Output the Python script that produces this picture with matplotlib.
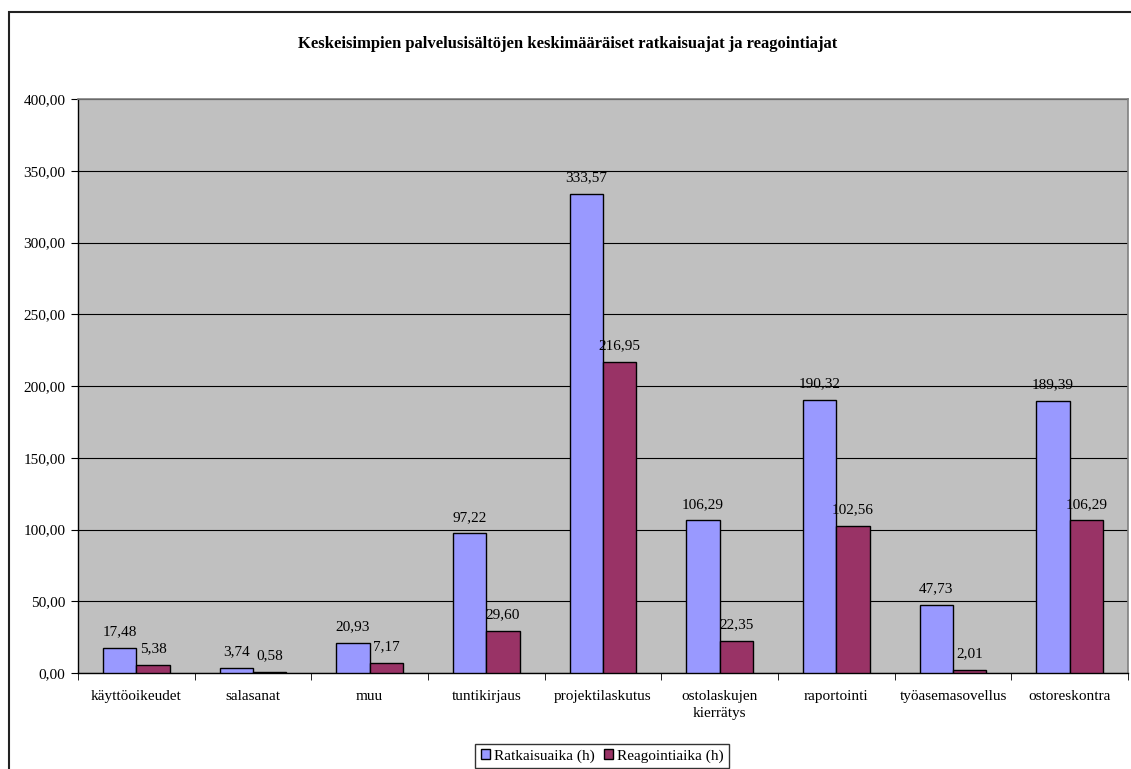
import numpy as np
import matplotlib.pyplot as plt
from matplotlib.patches import Rectangle

plt.rcParams['font.family'] = ['Liberation Serif', 'DejaVu Serif']

categories = ["käyttöoikeudet", "salasanat", "muu", "tuntikirjaus", "projektilaskutus",
              "ostolaskujen\nkierrätys", "raportointi", "työasemasovellus", "ostoreskontra"]
ratkaisuaika = [17.48, 3.74, 20.93, 97.22, 333.57, 106.29, 190.32, 47.73, 189.39]
reagointiaika = [5.38, 0.58, 7.17, 29.60, 216.95, 22.35, 102.56, 2.01, 106.29]
y_ticks = np.arange(0, 401, 50)

fig = plt.figure(figsize=(11.31, 7.69), dpi=100)
# outer chart border (left/top visible)
fig.patches.append(Rectangle((9 / 1131, -0.1), 1.2, 1 - 12 / 769 + 0.1, transform=fig.transFigure,
                             fill=False, edgecolor='#222222', linewidth=1.5))

ax = fig.add_axes([78 / 1131, 1 - 673 / 769, (1128 - 78) / 1131, (673 - 99) / 769])
ax.set_facecolor('#C0C0C0')

x = np.arange(len(categories))
w = 0.2857
b1 = ax.bar(x - w / 2, ratkaisuaika, w, color='#9999FF', edgecolor='black', linewidth=1,
            label='Ratkaisuaika (h)', zorder=3)
b2 = ax.bar(x + w / 2, reagointiaika, w, color='#993366', edgecolor='black', linewidth=1,
            label='Reagointiaika (h)', zorder=3)

fmt = lambda v: f"{v:.2f}".replace('.', ',')
for bars, vals in ((b1, ratkaisuaika), (b2, reagointiaika)):
    for rect, v in zip(bars, vals):
        ax.annotate(fmt(v), (rect.get_x() + rect.get_width() / 2, v), xytext=(0, 7),
                    textcoords='offset points', ha='center', va='bottom', fontsize=11, zorder=4)

ax.set_xlim(-0.5, len(categories) - 0.5)
ax.set_ylim(0, 400)
ax.set_yticks(y_ticks)
ax.set_yticklabels([fmt(v) for v in y_ticks], fontsize=11)
ax.yaxis.grid(True, color='black', linewidth=0.8, zorder=1)
ax.set_axisbelow(True)

ax.set_xticks(x)
ax.set_xticklabels(categories, fontsize=11, linespacing=1.45)
ax.tick_params(axis='x', length=0, pad=12)
ax.set_xticks(np.arange(-0.5, len(categories), 1), minor=True)
ax.tick_params(axis='x', which='minor', length=5, direction='out', color='black')
ax.tick_params(axis='y', length=5, direction='out', pad=4)

for side in ('top', 'right'):
    ax.spines[side].set_color('#808080')
    ax.spines[side].set_linewidth(1.2)
for side in ('left', 'bottom'):
    ax.spines[side].set_color('black')
    ax.spines[side].set_linewidth(1)

fig.text(568 / 1131, 1 - 44 / 769, "Keskeisimpien palvelusisältöjen keskimääräiset ratkaisuajat ja reagointiajat",
         ha='center', va='center', fontsize=12, fontweight='bold')

leg = fig.legend(loc='center', bbox_to_anchor=(602 / 1131, 1 - 756 / 769), ncol=2, fontsize=11,
                 frameon=True, fancybox=False, edgecolor='black', handlelength=0.6, handleheight=0.6,
                 handletextpad=0.25, columnspacing=0.6, borderpad=0.35)
leg.get_frame().set_linewidth(1)

fig.savefig('out.png', dpi=100)
